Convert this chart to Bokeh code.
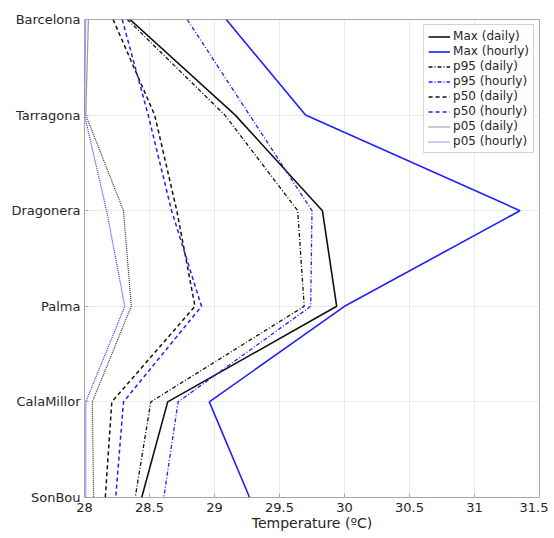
from bokeh.plotting import figure
from bokeh.models import Range1d, FixedTicker, Legend, LegendItem
from bokeh.embed import file_html
from bokeh.resources import INLINE

stations = ["Barcelona", "Tarragona", "Dragonera", "Palma", "CalaMillor", "SonBou"]
x_ticks = [28, 28.5, 29, 29.5, 30, 30.5, 31, 31.5]
x_tick_labels = ["28", "28.5", "29", "29.5", "30", "30.5", "31", "31.5"]

max_daily = [28.35, 29.16, 29.83, 29.94, 28.64, 28.44]
max_hourly = [29.09, 29.70, 31.35, 30.00, 28.96, 29.27]
p95_daily = [28.33, 29.08, 29.64, 29.69, 28.51, 28.39]
p95_hourly = [28.79, 29.27, 29.75, 29.74, 28.72, 28.61]
p50_daily = [28.22, 28.54, 28.71, 28.85, 28.21, 28.16]
p50_hourly = [28.29, 28.49, 28.67, 28.90, 28.30, 28.24]
p05_daily = [28.03, 28.01, 28.30, 28.36, 28.06, 28.07]
p05_hourly = [28.01, 28.00, 28.17, 28.31, 28.01, 28.01]

TXT = "#262626"
FONT = "DejaVu Sans"
BLACK = "#111111"
BLUE = "#1f1fff"

p = figure(width=548, height=533, output_backend="svg", toolbar_location=None,
           x_range=Range1d(28, 31.5), y_range=Range1d(len(stations) - 1, 0),
           min_border_left=84, min_border_right=9, min_border_top=19, min_border_bottom=35)
p.background_fill_color = "white"
p.border_fill_color = "white"
p.outline_line_color = "#a8a8a8"
p.outline_line_width = 1

ys = list(range(len(stations)))

series = [
    ("Max (daily)", max_daily, BLACK, "solid", 1.6),
    ("Max (hourly)", max_hourly, BLUE, "solid", 1.6),
    ("p95 (daily)", p95_daily, BLACK, "4 2 1 2", 1.3),
    ("p95 (hourly)", p95_hourly, BLUE, "4 2 1 2", 1.3),
    ("p50 (daily)", p50_daily, BLACK, "4 3", 1.5),
    ("p50 (hourly)", p50_hourly, BLUE, "4 3", 1.5),
    ("p05 (daily)", p05_daily, "#333333", "1 1", 1.2),
    ("p05 (hourly)", p05_hourly, "#3333ff", "1 1", 1.2),
]

items = []
for label, vals, col, dash, lw in series:
    r = p.line(vals, ys, line_color=col, line_dash=dash, line_width=lw)
    items.append(LegendItem(label=label, renderers=[r]))

for ax in (p.xaxis[0], p.yaxis[0]):
    ax.axis_line_color = None
    ax.major_tick_in = 4
    ax.major_tick_out = 0
    ax.minor_tick_line_color = None
    ax.major_tick_line_color = "#a8a8a8"
    ax.major_label_text_font = FONT
    ax.major_label_text_font_size = "13px"
    ax.major_label_text_color = TXT

p.xaxis.ticker = FixedTicker(ticks=x_ticks)
p.xaxis.major_label_overrides = {t: l for t, l in zip(x_ticks, x_tick_labels)}
p.xaxis.major_label_standoff = 5
p.xaxis.axis_label = "Temperature (ºC)"
p.xaxis.axis_label_text_font = FONT
p.xaxis.axis_label_text_font_size = "14px"
p.xaxis.axis_label_text_font_style = "normal"
p.xaxis.axis_label_text_color = TXT
p.xaxis.axis_label_standoff = 0

p.yaxis.ticker = FixedTicker(ticks=ys)
p.yaxis.major_label_overrides = {i: s for i, s in enumerate(stations)}
p.yaxis.major_label_standoff = 4

p.xgrid.ticker = FixedTicker(ticks=x_ticks)
p.ygrid.ticker = FixedTicker(ticks=ys)
p.xgrid.grid_line_color = "#ebebeb"
p.ygrid.grid_line_color = "#ebebeb"

legend = Legend(items=items, location="top_right",
                label_text_font=FONT, label_text_font_size="12px", label_text_color=TXT,
                glyph_width=22, glyph_height=13, label_height=13, spacing=1,
                padding=4, label_standoff=3, margin=5,
                border_line_color="#a8a8a8", border_line_width=1,
                background_fill_color="white", background_fill_alpha=1)
p.add_layout(legend)

open("out.html", "w").write(file_html(p, INLINE))
